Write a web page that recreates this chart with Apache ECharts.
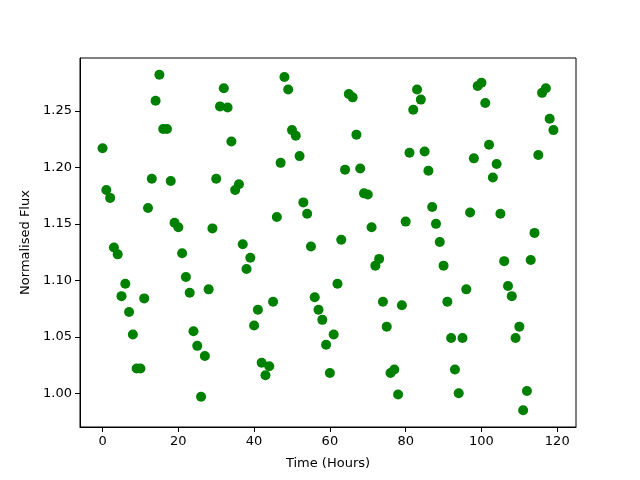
<!DOCTYPE html>
<html>
<head>
<meta charset="utf-8">
<script src="https://cdn.jsdelivr.net/npm/echarts@6/dist/echarts.min.js"></script>
<style>html,body{margin:0;padding:0;background:#fff}#c{width:640px;height:480px}</style>
</head>
<body>
<div id="c"></div>
<script>
const hours = [];
for (let i = 0; i < 120; i++) hours.push(i);
const flux = [
1.217,1.180,1.173,1.129,1.123,1.086,1.097,1.072,1.052,1.022,
1.022,1.084,1.164,1.190,1.259,1.282,1.234,1.234,1.188,1.151,
1.147,1.124,1.103,1.089,1.055,1.042,0.997,1.033,1.092,1.146,
1.190,1.254,1.270,1.253,1.223,1.180,1.185,1.132,1.110,1.120,
1.060,1.074,1.027,1.016,1.024,1.081,1.156,1.204,1.280,1.269,
1.233,1.228,1.210,1.169,1.159,1.130,1.085,1.074,1.065,1.043,
1.018,1.052,1.097,1.136,1.198,1.265,1.262,1.229,1.199,1.177,
1.176,1.147,1.113,1.119,1.081,1.059,1.018,1.021,0.999,1.078,
1.152,1.213,1.251,1.269,1.260,1.214,1.197,1.165,1.150,1.134,
1.113,1.081,1.049,1.021,1.000,1.049,1.092,1.160,1.208,1.272,
1.275,1.257,1.220,1.191,1.203,1.159,1.117,1.095,1.086,1.049,
1.059,0.985,1.002,1.118,1.142,1.211,1.266,1.270,1.243,1.233
];
const xTicks = [0, 20, 40, 60, 80, 100, 120];
const yTicks = [1.00, 1.05, 1.10, 1.15, 1.20, 1.25];

const points = hours.map((h, i) => [h, flux[i]]);
const xMin = -5.95, xMax = 124.95;
const yLo = Math.min(...flux), yHi = Math.max(...flux);
const yPad = (yHi - yLo) * 0.05;

const font = 'DejaVu Sans';
const chart = echarts.init(document.getElementById('c'), null, {renderer: 'canvas'});
chart.setOption({
  animation: false,
  backgroundColor: '#fff',
  grid: {left: 80, right: 64, top: 58, bottom: 53, show: true, borderColor: '#000', borderWidth: 1, backgroundColor: 'transparent'},
  xAxis: {
    type: 'value', min: xMin, max: xMax,
    name: 'Time (Hours)', nameLocation: 'middle', nameGap: 30,
    nameTextStyle: {fontFamily: font, fontSize: 13, color: '#000'},
    axisLine: {show: true, onZero: false, lineStyle: {color: '#000', width: 1}},
    axisTick: {show: true, length: 5, inside: false, customValues: xTicks, lineStyle: {color: '#000'}},
    axisLabel: {customValues: xTicks, margin: 8, fontFamily: font, fontSize: 13, color: '#000', showMinLabel: true, showMaxLabel: true},
    splitLine: {show: false}
  },
  yAxis: {
    type: 'value', min: yLo - yPad, max: yHi + yPad,
    name: 'Normalised Flux', nameLocation: 'middle', nameGap: 47,
    nameTextStyle: {fontFamily: font, fontSize: 13, color: '#000'},
    axisLine: {show: true, onZero: false, lineStyle: {color: '#000', width: 1}},
    axisTick: {show: true, length: 5, inside: false, customValues: yTicks, lineStyle: {color: '#000'}},
    axisLabel: {customValues: yTicks, margin: 8, fontFamily: font, fontSize: 13, color: '#000', formatter: v => v.toFixed(2)},
    splitLine: {show: false}
  },
  series: [{
    type: 'scatter',
    data: points,
    symbol: 'circle',
    symbolSize: 10,
    itemStyle: {color: '#008000', opacity: 1},
    clip: false
  }]
});
</script>
</body>
</html>
